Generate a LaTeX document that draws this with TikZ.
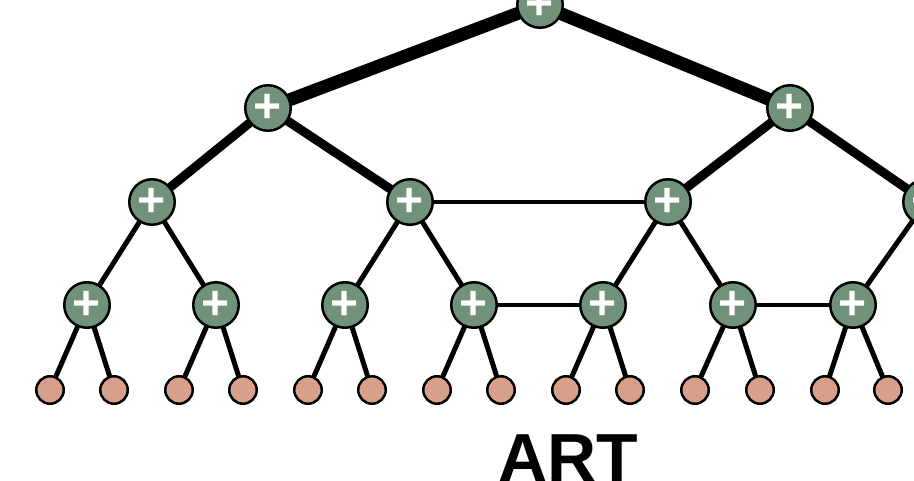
\documentclass[tikz,border=0pt]{standalone}
\usepackage{fontspec}
\setmainfont{Liberation Sans}
\usetikzlibrary{backgrounds}
\definecolor{sumgreen}{RGB}{113,146,122}
\definecolor{leafpink}{RGB}{214,160,138}
\tikzset{
	sum/.style={circle, draw=black, line width=2.5pt, fill=sumgreen, minimum size=45.5pt, inner sep=0pt, text=white, font=\fontsize{48}{48}\selectfont\bfseries},
	leaf/.style={circle, draw=black, line width=2.5pt, fill=leafpink, minimum size=27.5pt, inner sep=0pt},
	edge/.style={line width=5pt, line cap=round}
}
\begin{document}
\begin{tikzpicture}[x=1pt, y=-1pt]
	\useasboundingbox (0,0) rectangle (914,481);
	\clip (0,0) rectangle (914,481);
	%sum nodes
	\node[sum] (r) at (540,5) {+};
	\node[sum] (a1) at (268,108) {+};
	\node[sum] (a2) at (790,108) {+};
	\foreach \n/\x in {1/152,2/410,3/668,4/926}
	\node[sum] (b\n) at (\x,202) {+};
	\foreach \n/\x in {1/87,2/216,3/345,4/474,5/603,6/733,7/853}
	\node[sum] (c\n) at (\x,305) {+};
	%leaves
	\foreach \n/\x in {1/50,2/114,3/179,4/243,5/308,6/372,7/437,8/501,9/566,10/630,11/695,12/760,13/825,14/888}
	\node[leaf] (d\n) at (\x,390) {};
	%label
	\node[font=\fontsize{68}{68}\selectfont\bfseries, anchor=base] (title) at (568.5,481) {ART};
	%edges
	\begin{scope}[on background layer]
		\draw[edge, line width=13pt] (r) -- (a1);
		\draw[edge, line width=13pt] (r) -- (a2);
		\foreach \a/\b in {a1/b1, a1/b2, a2/b3, a2/b4}
		\draw[edge, line width=9pt] (\a) -- (\b);
		\foreach \a/\b in {b1/c1, b1/c2, b2/c3, b2/c4, b3/c5, b3/c6, b4/c7}
		\draw[edge] (\a) -- (\b);
		\foreach \c/\l/\m in {1/1/2, 2/3/4, 3/5/6, 4/7/8, 5/9/10, 6/11/12, 7/13/14}
		{
			\draw[edge] (c\c) -- (d\l);
			\draw[edge] (c\c) -- (d\m);
		}
		\foreach \a/\b in {b2/b3, c4/c5, c6/c7}
		\draw[line width=4pt] (\a) -- (\b);
	\end{scope}
\end{tikzpicture}
\end{document}
